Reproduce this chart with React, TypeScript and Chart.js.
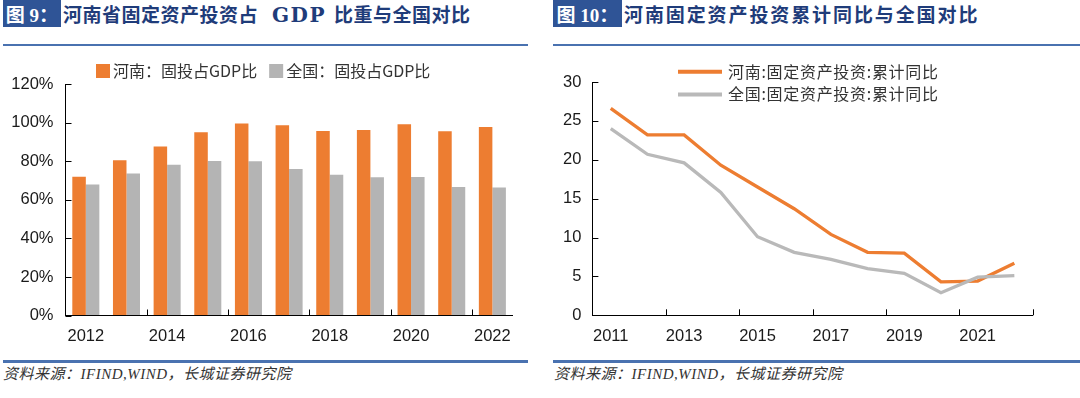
import React, { useEffect, useRef } from "react";
import { Chart, registerables } from "chart.js";

Chart.register(...registerables);

// ---------- data ----------
const barYears = ["2012", "2013", "2014", "2015", "2016", "2017", "2018", "2019", "2020", "2021", "2022"];
const henanShare = [72.0, 80.6, 87.7, 95.1, 99.6, 98.7, 95.8, 96.3, 99.3, 95.6, 97.9];
const nationalShare = [68.0, 73.7, 78.2, 80.2, 80.1, 76.1, 73.0, 71.8, 71.9, 66.7, 66.4];
const barSeriesNames = ["河南：固投占GDP比", "全国：固投占GDP比"];

const lineYears = ["2011", "2012", "2013", "2014", "2015", "2016", "2017", "2018", "2019", "2020", "2021", "2022"];
const henanGrowth = [26.6, 23.2, 23.2, 19.3, 16.5, 13.7, 10.4, 8.1, 8.0, 4.3, 4.4, 6.7];
const nationalGrowth = [24.0, 20.7, 19.6, 15.8, 10.1, 8.1, 7.2, 6.0, 5.4, 2.9, 4.9, 5.1];
const lineSeriesNames = ["河南:固定资产投资:累计同比", "全国:固定资产投资:累计同比"];

const ORANGE = "#ED7D31";
const GRAY = "#B4B4B4";
const TEXT = "#1a1a1a";
const TICK_FONT = { family: "'Liberation Sans', Arial, sans-serif", size: 16.5 };
const CJK = "'Noto Sans CJK SC', 'Noto Sans', sans-serif";
const RULE = "#4A72B0";

// ---------- plugins ----------
const inwardTicks = {
  id: "inwardTicks",
  afterDraw(chart: any, _a: any, o: any) {
    const { ctx } = chart;
    const xs = chart.scales.x;
    const ys = chart.scales.y;
    const len = o.len ?? 6;
    ctx.save();
    ctx.strokeStyle = "#000";
    ctx.lineWidth = 1;
    ctx.beginPath();
    ys.ticks.forEach((_t: any, i: number) => {
      const py = Math.round(ys.getPixelForTick(i)) + 0.5;
      ctx.moveTo(ys.right, py);
      ctx.lineTo(ys.right + len, py);
    });
    const n = xs.getLabels().length;
    for (let b = o.every; b <= n; b += o.every) {
      if (b === n && !o.endTick) continue;
      const px = Math.round(xs.getPixelForValue(b - 0.5)) + 0.5;
      ctx.moveTo(px, xs.top);
      ctx.lineTo(px, xs.top - len);
    }
    ctx.stroke();
    ctx.restore();
  },
};

const boxLegend = {
  id: "boxLegend",
  afterDraw(chart: any, _a: any, o: any) {
    const { ctx } = chart;
    ctx.save();
    ctx.font = o.font;
    ctx.textBaseline = "middle";
    let x = o.x;
    chart.data.datasets.forEach((ds: any) => {
      ctx.fillStyle = ds.backgroundColor;
      ctx.fillRect(x, o.y - o.box / 2, o.box, o.box);
      const tx = x + o.box + o.textGap;
      ctx.fillStyle = o.color;
      ctx.fillText(ds.label, tx, o.y);
      x = tx + ctx.measureText(ds.label).width + o.itemGap;
    });
    ctx.restore();
  },
};

const lineLegend = {
  id: "lineLegend",
  afterDraw(chart: any, _a: any, o: any) {
    const { ctx } = chart;
    ctx.save();
    ctx.font = o.font;
    ctx.textBaseline = "middle";
    if (o.letterSpacing) (ctx as any).letterSpacing = o.letterSpacing;
    chart.data.datasets.forEach((ds: any, i: number) => {
      const y = o.y + i * o.rowGap;
      ctx.strokeStyle = ds.borderColor;
      ctx.lineWidth = o.lineWidth;
      ctx.beginPath();
      ctx.moveTo(o.x, y);
      ctx.lineTo(o.x + o.len, y);
      ctx.stroke();
      ctx.fillStyle = o.color;
      ctx.fillText(ds.label, o.x + o.len + o.textGap, y);
    });
    ctx.restore();
  },
};

// ---------- charts ----------
function BarChart() {
  const ref = useRef<HTMLCanvasElement | null>(null);
  useEffect(() => {
    if (!ref.current) return;
    const chart = new Chart(ref.current, {
      type: "bar",
      data: {
        labels: barYears,
        datasets: [
          { label: barSeriesNames[0], data: henanShare, backgroundColor: ORANGE, barPercentage: 1, categoryPercentage: 0.665 },
          { label: barSeriesNames[1], data: nationalShare, backgroundColor: GRAY, barPercentage: 1, categoryPercentage: 0.665 },
        ],
      },
      options: {
        animation: false,
        responsive: false,
        maintainAspectRatio: false,
        layout: { padding: { top: 34.3, right: 27.3, left: 0, bottom: 0 } },
        plugins: {
          legend: { display: false },
          tooltip: { enabled: false },
          boxLegend: { x: 96, y: 21, box: 14, textGap: 3, itemGap: 12, font: `16px ${CJK}`, color: "#333" },
          inwardTicks: { len: 6, every: 2, endTick: false },
        } as any,
        scales: {
          x: {
            grid: { display: true, drawOnChartArea: false, drawTicks: false },
            border: { display: true, color: "#000", width: 1 },
            ticks: {
              autoSkip: false,
              maxRotation: 0,
              padding: 10.6,
              font: TICK_FONT,
              color: TEXT,
              callback(this: any, v: any, i: number) {
                return i % 2 === 0 ? this.getLabelForValue(v) : "";
              },
            },
            afterFit(s: any) {
              s.height = 34.5;
            },
          },
          y: {
            min: 0,
            max: 120,
            grid: { display: true, drawOnChartArea: false, drawTicks: false },
            border: { display: true, color: "#000", width: 1 },
            ticks: { stepSize: 20, padding: 12, font: TICK_FONT, color: TEXT, callback: (v: any) => `${v}%` },
            afterFit(s: any) {
              s.width = 65.5;
            },
          },
        },
      },
      plugins: [inwardTicks, boxLegend],
    } as any);
    return () => chart.destroy();
  }, []);
  return (
    <canvas ref={ref} width={540} height={300} style={{ position: "absolute", left: 0, top: 50, width: 540, height: 300 }} />
  );
}

function LineChart() {
  const ref = useRef<HTMLCanvasElement | null>(null);
  useEffect(() => {
    if (!ref.current) return;
    const chart = new Chart(ref.current, {
      type: "line",
      data: {
        labels: lineYears,
        datasets: [
          { label: lineSeriesNames[0], data: henanGrowth, borderColor: ORANGE, backgroundColor: ORANGE, borderWidth: 3.3, pointRadius: 0, tension: 0, order: 1 },
          { label: lineSeriesNames[1], data: nationalGrowth, borderColor: "#B9B9B9", backgroundColor: "#B9B9B9", borderWidth: 3.3, pointRadius: 0, tension: 0, order: 0 },
        ],
      },
      options: {
        animation: false,
        responsive: false,
        maintainAspectRatio: false,
        layout: { padding: { top: 32, right: 47.3, left: 0, bottom: 0 } },
        plugins: {
          legend: { display: false },
          tooltip: { enabled: false },
          lineLegend: { x: 138, y: 21.7, len: 44, rowGap: 22.7, textGap: 6, lineWidth: 4, font: `16px ${CJK}`, color: "#333", letterSpacing: "0.7px" },
          inwardTicks: { len: 6, every: 2, endTick: true },
        } as any,
        scales: {
          x: {
            offset: true,
            grid: { display: true, drawOnChartArea: false, drawTicks: false, offset: true },
            border: { display: true, color: "#000", width: 1 },
            ticks: {
              autoSkip: false,
              maxRotation: 0,
              padding: 10.8,
              font: TICK_FONT,
              color: TEXT,
              callback(this: any, v: any, i: number) {
                return i % 2 === 0 ? this.getLabelForValue(v) : "";
              },
            },
            afterFit(s: any) {
              s.height = 34.7;
            },
          },
          y: {
            min: 0,
            max: 30,
            grid: { display: true, drawOnChartArea: false, drawTicks: false },
            border: { display: true, color: "#000", width: 1 },
            ticks: { stepSize: 5, padding: 11, font: TICK_FONT, color: TEXT },
            afterFit(s: any) {
              s.width = 52.4;
            },
          },
        },
      },
      plugins: [inwardTicks, lineLegend],
    } as any);
    return () => chart.destroy();
  }, []);
  return (
    <canvas ref={ref} width={540} height={300} style={{ position: "absolute", left: 540, top: 50, width: 540, height: 300 }} />
  );
}

// ---------- page ----------
const titleText: React.CSSProperties = {
  position: "absolute",
  top: 0,
  height: 27,
  lineHeight: "27px",
  fontFamily: CJK,
  fontWeight: 700,
  fontSize: 19,
  color: "#1F3C7A",
  whiteSpace: "nowrap",
};

const boxStyle: React.CSSProperties = {
  position: "absolute",
  top: 0,
  height: 27,
  lineHeight: "27px",
  background: "#2F5496",
  color: "#fff",
  fontFamily: CJK,
  fontWeight: 700,
  fontSize: 19,
  textAlign: "center",
  whiteSpace: "nowrap",
};

const sourceStyle: React.CSSProperties = {
  position: "absolute",
  top: 366,
  height: 16,
  lineHeight: "16px",
  fontFamily: `'Liberation Serif', ${CJK}`,
  fontStyle: "italic",
  fontSize: 15,
  letterSpacing: 0.5,
  color: "#333",
  whiteSpace: "nowrap",
};

export default function App() {
  return (
    <div style={{ position: "absolute", left: 0, top: 0, width: 1080, height: 398, background: "#fff", overflow: "hidden" }}>
      {/* left panel header */}
      <div style={{ ...boxStyle, left: 3, width: 58 }}>
        <span style={{ fontFamily: `'Liberation Serif', ${CJK}` }}>图 9：</span>
      </div>
      <div style={{ ...titleText, left: 63, letterSpacing: 0.5 }}>
        河南省固定资产投资占
        <span style={{ fontFamily: "'DejaVu Serif', serif", fontSize: 20, letterSpacing: 1.5, marginLeft: 14, marginRight: 8 }}>GDP</span>
        比重与全国对比
      </div>
      <div style={{ position: "absolute", left: 3, top: 44, width: 525, height: 2, background: RULE }} />

      {/* right panel header */}
      <div style={{ ...boxStyle, left: 553, width: 69 }}>
        <span style={{ fontFamily: `'Liberation Serif', ${CJK}` }}>图 10：</span>
      </div>
      <div style={{ ...titleText, left: 624, letterSpacing: 1.9 }}>河南固定资产投资累计同比与全国对比</div>
      <div style={{ position: "absolute", left: 553, top: 44, width: 527, height: 2, background: RULE }} />

      <BarChart />
      <LineChart />

      {/* footers */}
      <div style={{ position: "absolute", left: 3, top: 360, width: 525, height: 3, background: RULE }} />
      <div style={{ position: "absolute", left: 553, top: 360, width: 527, height: 3, background: RULE }} />
      <div style={{ ...sourceStyle, left: 3 }}>资料来源：IFIND,WIND，长城证券研究院</div>
      <div style={{ ...sourceStyle, left: 554 }}>资料来源：IFIND,WIND，长城证券研究院</div>
    </div>
  );
}
